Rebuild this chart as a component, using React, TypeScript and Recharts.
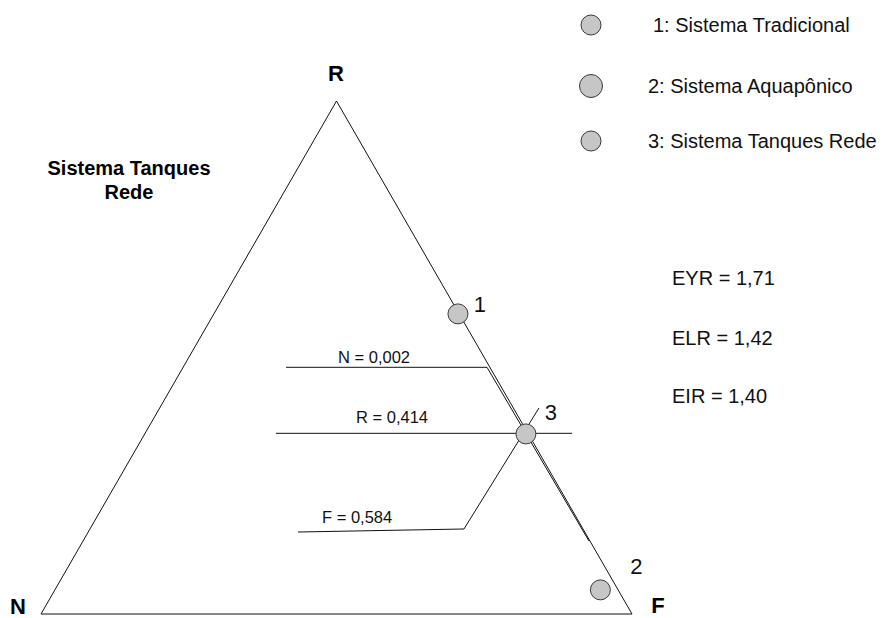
import React from 'react';
import { ScatterChart, Scatter, XAxis, YAxis, ReferenceLine } from 'recharts';

// ---- data ----
const CATEGORIES = ['1', '2', '3'];
const R_VALUES = [0.585, 0.047, 0.351];
const F_VALUES = [0.413, 0.923, 0.645];
const N_VALUES = [0.002, 0.03, 0.004];

const LEGEND_LABELS = ['1: Sistema Tradicional', '2: Sistema Aquapônico', '3: Sistema Tanques Rede'];
const INDEX_LABELS = ['EYR = 1,71', 'ELR = 1,42', 'EIR = 1,40'];
const READOUT_LABELS = ['N = 0,002', 'R = 0,414', 'F = 0,584'];
const VERTEX_LABELS = ['R', 'N', 'F'];
const TITLE_LINES = ['Sistema Tanques', 'Rede'];

// ternary corners in plot coordinates (N bottom-left, R top, F bottom-right)
const CORNER_N = { x: 0, y: 0 };
const CORNER_R = { x: 0.5, y: 1 };
const CORNER_F = { x: 1, y: 0 };

// leader lines (plot coordinates)
const LEADER_N = [{ x: 0.4146, y: 0.4809 }, { x: 0.7547, y: 0.4809 }, { x: 0.9272, y: 0.1423 }];
const LEADER_R = [{ x: 0.3976, y: 0.3522 }, { x: 0.8985, y: 0.3522 }];
const LEADER_F = [{ x: 0.4349, y: 0.1598 }, { x: 0.7157, y: 0.1657 }, { x: 0.8426, y: 0.4016 }];

// ---- layout / style ----
const W = 893;
const H = 618;
const FONT = '"Liberation Sans", Arial, Helvetica, sans-serif';
const POINT_FILL = '#c6c6c6';
const POINT_STROKE = '#3a3a3a';
const LINE = '#111';
const LABEL_OFFSETS = [
  { dx: 22, dy: -9 },
  { dx: 36, dy: -23 },
  { dx: 25, dy: -21 },
];

const points = CATEGORIES.map((name, i) => ({
  name,
  n: N_VALUES[i],
  r: R_VALUES[i],
  f: F_VALUES[i],
  x: F_VALUES[i] + R_VALUES[i] / 2,
  y: R_VALUES[i],
}));

const segmentsOf = (pts: { x: number; y: number }[]) =>
  pts.slice(1).map((p, i) => [pts[i], p] as [{ x: number; y: number }, { x: number; y: number }]);

const PointShape = (props: any) => {
  const { cx, cy, index, payload } = props;
  const idx = typeof index === 'number' ? index : CATEGORIES.indexOf(payload?.name);
  const off = LABEL_OFFSETS[idx] || { dx: 22, dy: -10 };
  return (
    <g>
      <circle cx={cx} cy={cy} r={10} fill={POINT_FILL} stroke={POINT_STROKE} strokeWidth={1} />
      <text
        x={cx + off.dx}
        y={cy + off.dy}
        textAnchor="middle"
        dominantBaseline="central"
        fontFamily={FONT}
        fontSize={22}
        fill="#111"
      >
        {payload?.name}
      </text>
    </g>
  );
};

export default function App() {
  const triangle = segmentsOf([CORNER_N, CORNER_R, CORNER_F, CORNER_N]);
  const leaders = [...segmentsOf(LEADER_N), ...segmentsOf(LEADER_R), ...segmentsOf(LEADER_F)];
  const legendY = [25, 86, 141];
  const legendR = [10, 11.5, 10];
  const legendTextX = [653, 648, 648];
  const indexY = [285, 345, 403];
  const readoutPos = [
    { x: 338, y: 363 },
    { x: 356, y: 423 },
    { x: 322, y: 523 },
  ];
  const vertexPos = [
    { x: 336, y: 81 },
    { x: 18, y: 614 },
    { x: 658, y: 613 },
  ];
  return (
    <div style={{ position: 'absolute', left: 0, top: 0, width: W, height: H, background: '#fff' }}>
      <ScatterChart width={W} height={H} margin={{ top: 101, right: 261, bottom: 4, left: 41 }}>
        <XAxis type="number" dataKey="x" domain={[0, 1]} hide />
        <YAxis type="number" dataKey="y" domain={[0, 1]} hide />
        {triangle.map((seg, i) => (
          <ReferenceLine key={'t' + i} segment={seg} stroke={LINE} strokeWidth={1} ifOverflow="visible" />
        ))}
        <Scatter data={points} shape={PointShape} isAnimationActive={false} />
        {leaders.map((seg, i) => (
          <ReferenceLine key={'l' + i} segment={seg} stroke={LINE} strokeWidth={1} ifOverflow="visible" />
        ))}
      </ScatterChart>
      <svg
        width={W}
        height={H}
        style={{ position: 'absolute', left: 0, top: 0, pointerEvents: 'none' }}
      >
        {LEGEND_LABELS.map((t, i) => (
          <g key={t}>
            <circle cx={591} cy={legendY[i]} r={legendR[i]} fill={POINT_FILL} stroke={POINT_STROKE} />
            <text x={legendTextX[i]} y={legendY[i] + 7} fontFamily={FONT} fontSize={20} fill="#111">
              {t}
            </text>
          </g>
        ))}
        {INDEX_LABELS.map((t, i) => (
          <text key={t} x={672} y={indexY[i]} fontFamily={FONT} fontSize={20} fill="#111">
            {t}
          </text>
        ))}
        {READOUT_LABELS.map((t, i) => (
          <text key={t} x={readoutPos[i].x} y={readoutPos[i].y} fontFamily={FONT} fontSize={16.5} fill="#111">
            {t}
          </text>
        ))}
        {VERTEX_LABELS.map((t, i) => (
          <text
            key={t}
            x={vertexPos[i].x}
            y={vertexPos[i].y}
            textAnchor="middle"
            fontFamily={FONT}
            fontSize={22}
            fontWeight="bold"
            fill="#000"
          >
            {t}
          </text>
        ))}
        {TITLE_LINES.map((t, i) => (
          <text
            key={t}
            x={129}
            y={175 + i * 24}
            textAnchor="middle"
            fontFamily={FONT}
            fontSize={20}
            fontWeight="bold"
            fill="#000"
          >
            {t}
          </text>
        ))}
      </svg>
    </div>
  );
}
